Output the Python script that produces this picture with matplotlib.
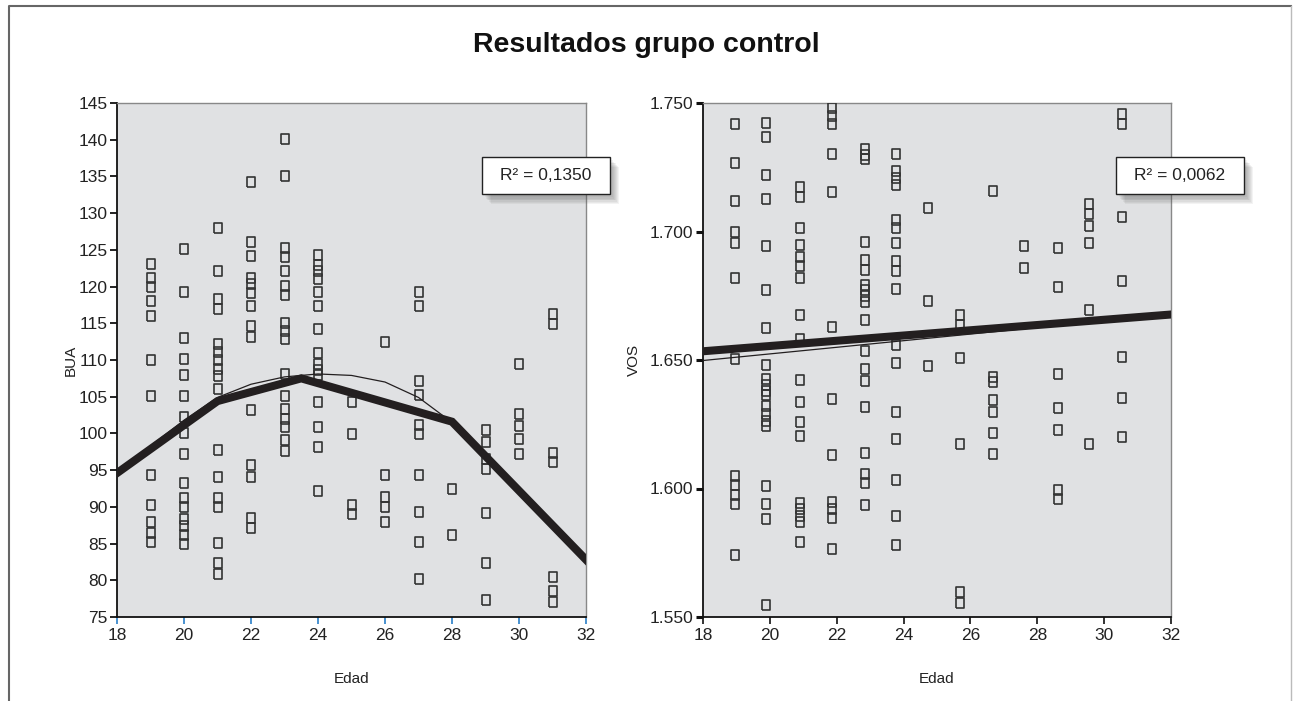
import numpy as np
import matplotlib
matplotlib.use("Agg")
import matplotlib.pyplot as plt
from matplotlib.lines import Line2D
from matplotlib.patches import Rectangle

plt.rcParams['font.family'] = ['Liberation Sans', 'DejaVu Sans']

# --- datos: BUA por edad (grupo control) ---
bua_edad = {
    19: [123.1, 121.2, 120.0, 118.1, 116.0, 110.0, 105.1, 94.3, 90.2, 88.0, 86.5, 85.2],
    20: [125.1, 119.2, 113.0, 110.2, 108.0, 105.1, 102.3, 100.1, 97.2, 93.2, 91.2, 90.0,
         88.4, 87.4, 86.2, 85.0],
    21: [128.0, 122.1, 118.3, 117.0, 112.2, 111.1, 110.0, 108.8, 107.8, 106.1, 97.8, 94.1,
         91.2, 90.0, 85.1, 82.4, 80.8],
    22: [134.2, 126.1, 124.1, 121.2, 120.3, 119.1, 117.3, 114.6, 113.2, 103.2, 95.7, 94.1,
         88.5, 87.1],
    23: [140.1, 135.1, 125.3, 124.0, 122.1, 120.1, 118.8, 115.1, 114.0, 112.9, 108.1, 105.1,
         103.3, 102.0, 100.9, 99.1, 97.6],
    24: [124.3, 123.0, 122.1, 121.0, 119.2, 117.3, 114.2, 111.0, 109.5, 108.6, 107.9, 104.3,
         100.9, 98.1, 92.1],
    25: [104.3, 99.9, 90.3, 89.0],
    26: [112.4, 94.4, 91.3, 90.0, 88.0],
    27: [119.3, 117.4, 107.2, 105.2, 101.2, 99.9, 94.4, 89.3, 85.2, 80.2],
    28: [92.4, 86.1],
    29: [100.5, 98.9, 96.5, 95.1, 89.2, 82.4, 77.3],
    30: [109.4, 102.6, 101.0, 99.3, 97.2],
    31: [116.3, 114.9, 97.4, 96.1, 80.5, 78.6, 77.1],
}
bua_ajuste_x = [18, 21, 23.5, 28, 32]
bua_ajuste_y = [94.6, 104.4, 107.5, 101.6, 82.8]
bua_suave_x = [18, 19, 20, 21, 22, 23, 24, 25, 26, 27, 28, 29, 30, 31, 32]
bua_suave_y = [94.7, 98.3, 101.8, 104.9, 106.7, 107.7, 108.1, 107.9, 107.0, 104.9, 101.5,
               97.0, 92.3, 87.6, 82.8]
bua_r2 = "0,1350"

# --- datos: VOS por edad ---
vos_edad = {
    18.96: [1741.7, 1726.6, 1711.7, 1699.8, 1695.5, 1681.9, 1650.5, 1604.9, 1601.3, 1597.4,
            1593.9, 1574.2],
    19.87: [1742.4, 1736.7, 1722.0, 1712.6, 1694.5, 1677.1, 1662.5, 1647.9, 1642.7, 1640.1,
            1637.9, 1636.2, 1632.1, 1628.8, 1626.2, 1624.3, 1601.0, 1593.9, 1588.1, 1554.7],
    20.90: [1717.3, 1713.6, 1701.3, 1694.6, 1689.9, 1686.4, 1681.9, 1667.7, 1658.0, 1642.2,
            1633.6, 1626.0, 1620.4, 1594.5, 1591.9, 1589.3, 1586.8, 1579.2],
    21.85: [1748.2, 1745.1, 1741.7, 1730.1, 1715.2, 1662.9, 1634.7, 1613.0, 1594.9, 1591.9,
            1588.4, 1576.4],
    22.85: [1732.0, 1729.8, 1728.1, 1696.1, 1689.0, 1684.9, 1679.3, 1677.4, 1674.8, 1672.6,
            1665.7, 1653.4, 1646.6, 1642.0, 1631.7, 1614.0, 1605.5, 1602.0, 1593.5],
    23.76: [1730.2, 1723.6, 1721.0, 1718.2, 1704.6, 1701.3, 1695.5, 1688.4, 1684.5, 1677.7,
            1655.8, 1648.9, 1629.7, 1619.4, 1603.3, 1589.3, 1578.0],
    24.72: [1709.1, 1672.8, 1647.5],
    25.70: [1667.7, 1663.8, 1650.6, 1617.2, 1559.8, 1555.4],
    26.69: [1715.6, 1643.3, 1641.4, 1634.3, 1629.7, 1621.7, 1613.3],
    27.60: [1694.2, 1685.8],
    28.63: [1693.6, 1678.4, 1644.6, 1631.4, 1622.7, 1599.3, 1596.1],
    29.55: [1710.7, 1706.8, 1702.2, 1695.5, 1669.6, 1617.5],
    30.53: [1745.6, 1741.7, 1705.8, 1680.9, 1651.1, 1635.3, 1620.0],
}
vos_ajuste_x = [18, 32]
vos_ajuste_y = [1653.4, 1667.7]
vos_suave_x = [18, 32]
vos_suave_y = [1649.8, 1667.8]
vos_r2 = "0,0062"

edad_ticks = [18, 20, 22, 24, 26, 28, 30, 32]
bua_ticks = list(range(75, 150, 5))
vos_ticks = [1550, 1600, 1650, 1700, 1750]

FONDO = '#e0e1e3'
OSCURO = '#231f20'
# marcador rectangular (mas alto que ancho)
RECT = [(-0.37, -0.5), (0.37, -0.5), (0.37, 0.5), (-0.37, 0.5), (-0.37, -0.5)]


def puntos(d):
    xs, ys = [], []
    for k, vals in d.items():
        xs += [k] * len(vals)
        ys += vals
    return xs, ys


def estilo_ejes(ax, color_xtick):
    ax.set_facecolor(FONDO)
    for s in ['left', 'bottom']:
        ax.spines[s].set_color('#111111')
        ax.spines[s].set_linewidth(1.3)
    for s in ['top', 'right']:
        ax.spines[s].set_color('#888888')
        ax.spines[s].set_linewidth(1.0)
    ax.tick_params(axis='y', direction='out', length=5, width=1.3, color='#111111',
                   labelsize=12.5, pad=2, labelcolor='#222222')
    ax.tick_params(axis='x', direction='out', length=5, width=1.2, color=color_xtick,
                   labelsize=12.5, pad=3, labelcolor='#222222')
    ax.set_xlim(18, 32)
    ax.set_xticks(edad_ticks)
    ax.set_xlabel('Edad', fontsize=11, labelpad=21, color='#222222')


def caja_r2(fig, cx, cy, texto):
    # sombra difusa y caja blanca (en pixeles de la figura)
    W, H = 1293, 701
    w, h = 128, 37
    x0, y0 = cx - w / 2, cy - h / 2
    for i in range(7):
        fig.patches.append(Rectangle(((x0 + 3 + i) / W, 1 - (y0 + h + 4 + i) / H),
                                     w / W, h / H, transform=fig.transFigure,
                                     facecolor='#555555', edgecolor='none',
                                     alpha=0.07, zorder=5))
    fig.patches.append(Rectangle((x0 / W, 1 - (y0 + h) / H), w / W, h / H,
                                 transform=fig.transFigure, facecolor='white',
                                 edgecolor='#222222', linewidth=1.0, zorder=6))
    fig.text(cx / W, 1 - cy / H, 'R² = ' + texto, ha='center', va='center',
             fontsize=12.5, color='#222222', zorder=7)


fig = plt.figure(figsize=(12.93, 7.01), dpi=100)

ax1 = fig.add_axes([117 / 1293, 1 - 617 / 701, 469 / 1293, 514 / 701])
ax2 = fig.add_axes([703 / 1293, 1 - 617 / 701, 468 / 1293, 514 / 701])

# BUA
x, y = puntos(bua_edad)
ax1.plot(x, y, linestyle='none', marker=RECT, markersize=7.8, markerfacecolor='none',
         markeredgecolor='#333333', markeredgewidth=1.2, zorder=3)
ax1.plot(bua_suave_x, bua_suave_y, color=OSCURO, linewidth=0.9, zorder=4)
ax1.plot(bua_ajuste_x, bua_ajuste_y, color=OSCURO, linewidth=5.8, zorder=4,
         solid_joinstyle='miter')
ax1.set_ylim(75, 145)
ax1.set_yticks(bua_ticks)
ax1.set_ylabel('BUA', fontsize=11, labelpad=0, color='#222222')
estilo_ejes(ax1, '#2a7fc8')

# VOS
x, y = puntos(vos_edad)
ax2.plot(x, y, linestyle='none', marker=RECT, markersize=7.8, markerfacecolor='none',
         markeredgecolor='#333333', markeredgewidth=1.2, zorder=3)
ax2.plot(vos_suave_x, vos_suave_y, color=OSCURO, linewidth=0.9, zorder=4)
ax2.plot(vos_ajuste_x, vos_ajuste_y, color=OSCURO, linewidth=5.8, zorder=4)
ax2.set_ylim(1550, 1750)
ax2.set_yticks(vos_ticks)
ax2.set_yticklabels(['{:,}'.format(v).replace(',', '.') for v in vos_ticks])
ax2.set_ylabel('VOS', fontsize=11, labelpad=6, color='#222222')
estilo_ejes(ax2, '#111111')
ax2.tick_params(axis='y', width=2.2)

caja_r2(fig, 546, 175, bua_r2)
caja_r2(fig, 1180, 175, vos_r2)

fig.text(0.5, 1 - 45 / 701, 'Resultados grupo control', ha='center', va='center',
         fontsize=20.5, fontweight='bold', color='#111111')

# marco exterior
fig.lines.append(Line2D([9 / 1293, 9 / 1293, 1291 / 1293], [0, 1 - 6 / 701, 1 - 6 / 701],
                        transform=fig.transFigure, color='#666666', linewidth=1.5))
fig.lines.append(Line2D([1291 / 1293, 1291 / 1293], [0, 1 - 6 / 701],
                        transform=fig.transFigure, color='#bbbbbb', linewidth=1.0))

fig.savefig('out.png', dpi=100)
